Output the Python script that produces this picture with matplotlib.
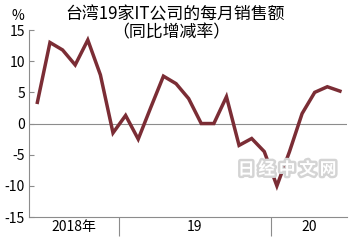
import numpy as np
import matplotlib
matplotlib.use("Agg")
import matplotlib.pyplot as plt
import matplotlib.patheffects as pe

plt.rcParams['font.family'] = ['Liberation Sans Narrow', 'Noto Sans CJK SC', 'DejaVu Sans']

# monthly sales, yoy change (%), Jun 2018 .. Jun 2020
months = ['2018-06', '2018-07', '2018-08', '2018-09', '2018-10', '2018-11', '2018-12',
          '2019-01', '2019-02', '2019-03', '2019-04', '2019-05', '2019-06',
          '2019-07', '2019-08', '2019-09', '2019-10', '2019-11', '2019-12',
          '2020-01', '2020-02', '2020-03', '2020-04', '2020-05', '2020-06']
values = [3.4, 13.0, 11.8, 9.4, 13.4, 7.8, -1.5,
          1.3, -2.5, 2.6, 7.6, 6.4, 4.0,
          0.0, 0.0, 4.3, -3.5, -2.4, -4.5,
          -10.0, -4.5, 1.6, 5.0, 5.9, 5.2]
year_labels = ['2018年', '19', '20']
yticks = [15, 10, 5, 0, -5, -10, -15]

line_color = '#7b2d35'
grey = '#8c8c8c'

x = np.arange(len(months))
# year boundaries sit between december and january
bounds = [i - 0.5 for i, m in enumerate(months) if m.endswith('-01')]

fig = plt.figure(figsize=(3.5, 2.42), dpi=100)
ax = fig.add_axes([0.083, 0.103, 0.908, 0.773])

ax.axhline(0, color=grey, lw=0.8, zorder=1)
ax.plot(x, values, color=line_color, lw=2.5, solid_joinstyle='miter', zorder=3)

x0, x1 = -0.66, len(months) - 1 + 0.55
ax.set_xlim(x0, x1)
ax.set_ylim(-15, 15)

ax.set_yticks(yticks)
ax.set_yticklabels([str(t) for t in yticks], fontsize=10)
ax.tick_params(axis='y', direction='in', length=3.5, width=0.8, color=grey, pad=3)

edges = [x0] + bounds + [x1]
centers = [(a + b) / 2 for a, b in zip(edges[:-1], edges[1:])]
ax.set_xticks(bounds)
ax.set_xticklabels([])
ax.set_xticks(centers, minor=True)
ax.set_xticklabels(year_labels, minor=True, fontsize=10)
ax.tick_params(axis='x', which='major', direction='out', length=14, width=0.8, color=grey)
ax.tick_params(axis='x', which='minor', length=0, pad=2)

for s in ['top', 'right']:
    ax.spines[s].set_visible(False)
for s in ['left', 'bottom']:
    ax.spines[s].set_color(grey)
    ax.spines[s].set_linewidth(0.8)

cjk = ['Noto Sans CJK SC', 'DejaVu Sans']
fig.text(0.5, 0.942, '台湾19家IT公司的每月销售额', ha='center', va='center', fontsize=12.2,
         family=cjk, weight='light')
fig.text(0.489, 0.868, '（同比增减率）', ha='center', va='center', fontsize=12.2,
         family=cjk, weight='light')
fig.text(0.05, 0.935, '%', ha='center', va='center', fontsize=10)

# watermark
fig.text(0.82, 0.30, '日 经 中 文 网', ha='center', va='center', fontsize=12, color='white',
         family=['Noto Sans CJK SC'], weight='bold',
         path_effects=[pe.withStroke(linewidth=3.5, foreground='#d4d4d4')])

fig.savefig('out.png', dpi=100)
